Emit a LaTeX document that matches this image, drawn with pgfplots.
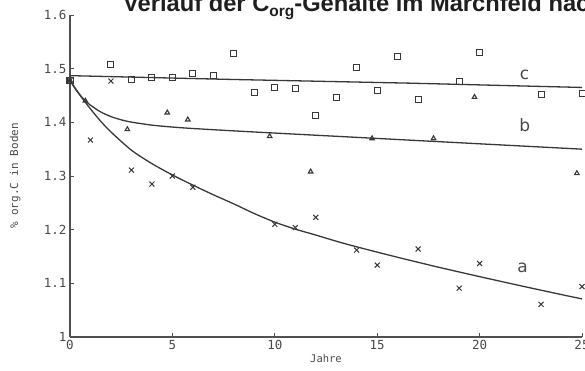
\documentclass[border=0pt]{standalone}
\usepackage{pgfplots}
\pgfplotsset{compat=1.18}
\usepackage{fontspec}
\setmainfont{Liberation Sans}
\newfontfamily\plotfont{DejaVu Sans Mono}
\newfontfamily\labfont{DejaVu Sans}
\definecolor{ink}{HTML}{383838}
\definecolor{axgray}{HTML}{505050}
\definecolor{txtgray}{HTML}{4A4A4A}
\begin{document}
\begin{tikzpicture}
\path[use as bounding box] (0,0) rectangle (585pt,370pt);
\clip (0,0) rectangle (585pt,370pt);
\begin{axis}[
  scale only axis, width=512pt, height=322pt,
  at={(70pt,33pt)}, anchor=south west,
  xmin=0, xmax=25, ymin=1, ymax=1.6,
  axis lines*=left,
  axis line style={-, draw=axgray, line width=1.3pt},
  xtick={0,5,10,15,20,25},
  ytick={1,1.1,1.2,1.3,1.4,1.5,1.6},
  tick align=inside,
  major tick length=4pt,
  tick style={draw=axgray, line width=0.9pt},
  /pgf/number format/assume math mode=true,
  ticklabel style={font=\plotfont\fontsize{12.5}{14}\selectfont, text=txtgray},
  xlabel={Jahre},
  xlabel style={at={(axis description cs:0.5,0)}, anchor=center, yshift=-22pt, font=\plotfont\fontsize{10.5}{12}\selectfont, text=txtgray},
  ylabel={\% org.C in Boden},
  ylabel style={at={(axis description cs:-0.1074,0.5)}, anchor=center, font=\plotfont\fontsize{11}{12}\selectfont, text=txtgray},
  clip=false,
]
% curve c
\addplot[ink, line width=1.3pt, sharp plot] coordinates {(0,1.487) (7.8,1.480) (16.6,1.473) (25,1.465)};
% curve b
\addplot[ink, line width=1.3pt, smooth, tension=0.4] coordinates {
(0,1.478) (0.25,1.4628) (0.5,1.4504) (0.75,1.4402) (1,1.4319) (1.5,1.4193) (2,1.4107) (2.5,1.4047) (3,1.4004) (4,1.3948) (5,1.3912) (6,1.3885) (8,1.3841) (10,1.380) (15,1.370) (20,1.360) (25,1.350)};
% curve a
\addplot[ink, line width=1.3pt, smooth, tension=0.4] coordinates {
(0,1.478) (0.5,1.450) (1,1.425) (1.5,1.402) (2,1.382) (3,1.348) (4,1.323) (5,1.302) (6,1.283) (7,1.265) (8,1.248) (9,1.230) (10,1.214) (11,1.201) (12,1.190) (13,1.1785) (14,1.168) (16,1.1485) (18,1.130) (20,1.1125) (22,1.0955) (24,1.079) (25,1.071)};
% squares (c)
\addplot[only marks, mark=square, mark size=3pt, ink, mark options={line width=1pt}] coordinates {
(0,1.478) (2,1.507) (3,1.479) (4,1.483) (5,1.484) (6,1.491) (7,1.488) (8,1.529) (9,1.456) (10,1.464) (11,1.463) (12,1.413) (13,1.446) (14,1.502) (15,1.459) (16,1.522) (17,1.443) (19,1.477) (20,1.531) (23,1.451) (25,1.454)};
% crosses (a)
\addplot[only marks, mark=x, mark size=3.5pt, ink, mark options={line width=1pt}] coordinates {
(0,1.478) (1,1.367) (2,1.477) (3,1.311) (4,1.285) (5,1.300) (6,1.279) (10,1.210) (11,1.204) (12,1.223) (14,1.162) (15,1.134) (17,1.164) (19,1.091) (20,1.137) (23,1.061) (25,1.094)};
% triangles (b)
\addplot[only marks, mark=triangle, mark size=2.6pt, ink, mark options={line width=1.1pt}] coordinates {
(0,1.478) (0.75,1.440) (2.8,1.387) (4.75,1.418) (5.75,1.405) (9.75,1.374) (11.75,1.308) (14.75,1.370) (17.75,1.370) (19.75,1.447) (24.75,1.305)};
\node[font=\labfont\fontsize{17}{18}\selectfont, text=txtgray, inner sep=0] at (axis cs:22.2,1.4894) {c};
\node[font=\labfont\fontsize{17}{18}\selectfont, text=txtgray, inner sep=0] at (axis cs:22.2,1.395) {b};
\node[font=\labfont\fontsize{17}{18}\selectfont, text=txtgray, inner sep=0] at (axis cs:22.1,1.1285) {a};
\end{axis}
\node[anchor=base west, inner sep=0, font=\bfseries\fontsize{23.7}{26}\selectfont, text=black!88] at (123pt,358pt) {Verlauf der C\raisebox{-5pt}{\fontsize{15.5}{15.5}\selectfont org}-Gehalte im Marchfeld nach};
\end{tikzpicture}
\end{document}
